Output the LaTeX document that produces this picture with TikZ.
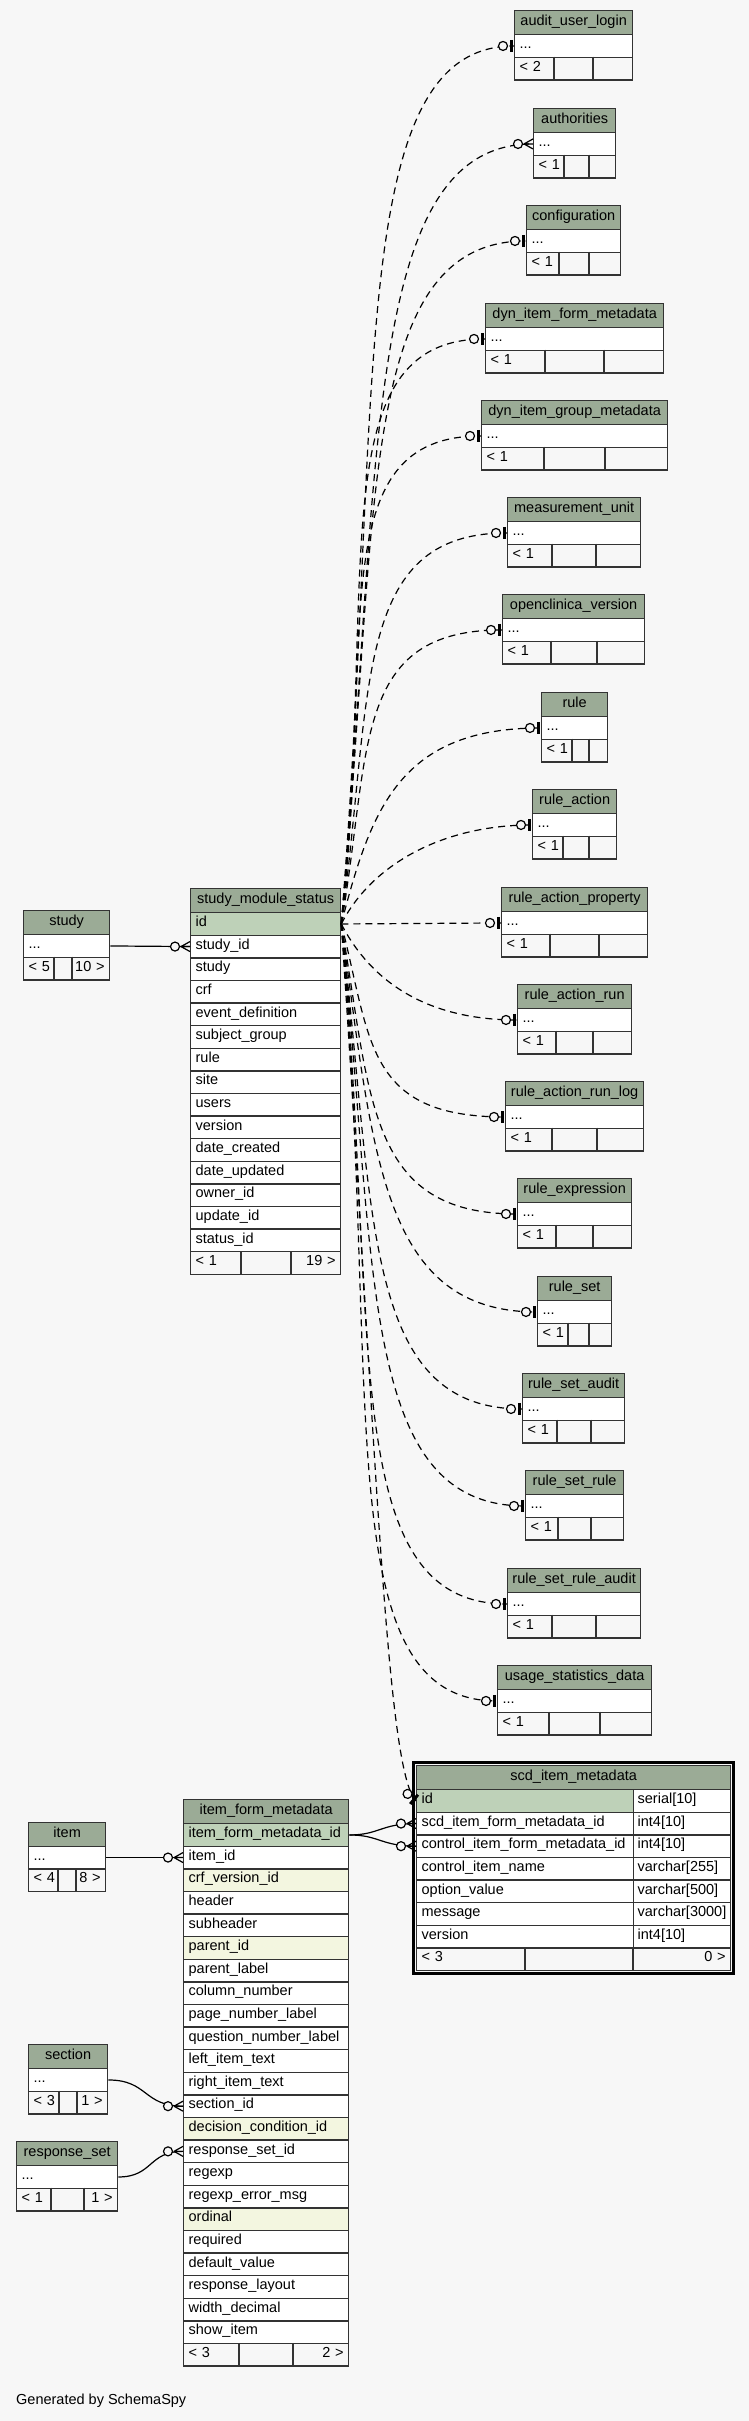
\documentclass[tikz,border=0pt]{standalone}
\usepackage{fontspec}
\setmainfont{Liberation Sans}
\definecolor{bgcol}{HTML}{F7F7F7}
\definecolor{hdrcol}{HTML}{9BAB96}
\definecolor{pkcol}{HTML}{BED1B8}
\definecolor{idxcol}{HTML}{F3F6E0}
\definecolor{edgecol}{HTML}{333333}

\begin{document}
\begin{tikzpicture}[x=1pt, y=-1pt,
    every node/.style={font=\fontsize{14.5}{17}\selectfont, text height=9.5pt, text depth=4pt},
    tbl/.style={draw=edgecol, line width=1.3pt},
    hdr/.style={tbl, fill=hdrcol, anchor=north west, minimum height=24pt, inner sep=0pt},
    cell/.style={tbl, fill=white, anchor=north west, minimum height=22.6pt, inner xsep=5pt, inner ysep=0pt, align=left},
    foot/.style={cell, fill=bgcol},
    imp/.style={line width=1.2pt, dash pattern=on 7pt off 5pt},
    fk/.style={line width=1.2pt},
    crow/.pic={\draw[line width=1.2pt] (-9,0) -- (0,-5) (-9,0) -- (0,5) (-9,0) -- (0,0);
               \draw[line width=1.2pt, fill=bgcol] (-15,0) circle (4.5pt);},
    zeroone/.pic={\draw[line width=3pt] (-2.5,-6) -- (-2.5,6);
                  \draw[line width=1.2pt, fill=bgcol] (-11,0) circle (4.5pt);}]

    \fill[bgcol] (0,0) rectangle (749,2421);
    \useasboundingbox (0,0) rectangle (749,2421);

    \foreach \nm/\xl/\xr/\ty/\da/\db/\ft/\txt in {
        aul/514/632/10/554/593/< 2/audit\_user\_login,
        auth/533/615/108/564/589/< 1/authorities,
        conf/526/620/205/559/589/< 1/configuration,
        difm/485/663/303/545/604/< 1/dyn\_item\_form\_metadata,
        digm/481/667/400/544/605/< 1/dyn\_item\_group\_metadata,
        mu/507/640/497/552/596/< 1/measurement\_unit,
        ocv/502/644/594/551/597/< 1/openclinica\_version,
        rl/541/607/692/572/589/< 1/rule,
        ra/532/616/789/563/589/< 1/rule\_action,
        rap/501/647/887/550/599/< 1/rule\_action\_property,
        rar/517/631/984/556/593/< 1/rule\_action\_run,
        rarl/505/643/1081/552/597/< 1/rule\_action\_run\_log,
        rex/517/631/1178/556/593/< 1/rule\_expression,
        rs/537/611/1276/568/589/< 1/rule\_set,
        rsa/522/624/1373/557/591/< 1/rule\_set\_audit,
        rsr/525/623/1470/558/591/< 1/rule\_set\_rule,
        rsra/507/640/1568/552/596/< 1/rule\_set\_rule\_audit,
        usd/497/651/1665/549/600/< 1/usage\_statistics\_data,
        study/23/109/910/54/72/< 5\hfill 10 >/study,
        item/28/105/1821.6/58/76/< 4\hfill 8 >/item,
        sec/28/107/2044/59/77/< 3\hfill 1 >/section,
        rset/16/117/2141/51/84/< 1\hfill 1 >/response\_set}
    {
        \pgfmathsetmacro\tblw{\xr-\xl}
        \pgfmathsetmacro\txtw{\xr-\xl-10}
        \node[hdr, minimum width=\tblw pt] (\nm-h) at (\xl,\ty) {\txt};
        \node[cell, minimum width=\tblw pt, text width=\txtw pt] (\nm) at (\xl,\ty+24) {...};
        \node[foot, minimum width=\tblw pt, text width=\txtw pt] (\nm-f) at (\xl,\ty+46.6) {\ft};
        \draw[tbl] (\da,\ty+46.6) -- (\da,\ty+69.2) (\db,\ty+46.6) -- (\db,\ty+69.2);
    }

    \node[hdr, minimum width=150pt] (sms-h) at (190,888) {study\_module\_status};
    \node[cell, fill=pkcol, minimum width=150pt, text width=140pt] (sms-0) at (190,912) {id};
    \foreach \c [count=\i] in {study\_id, study, crf, event\_definition, subject\_group, rule, site,
        users, version, date\_created, date\_updated, owner\_id, update\_id, status\_id}
        \node[cell, minimum width=150pt, text width=140pt] (sms-\i) at (190,912+22.6*\i) {\c};
    \node[foot, minimum width=150pt, text width=140pt] (sms-f) at (190,1251) {< 1\hfill 19 >};
    \draw[tbl] (241,1251) -- (241,1273.6) (291,1251) -- (291,1273.6);

    \node[hdr, minimum width=165pt] (ifm-h) at (183,1799) {item\_form\_metadata};
    \node[cell, fill=pkcol, minimum width=165pt, text width=155pt] (ifm-0) at (183,1823) {item\_form\_metadata\_id};
    \foreach \c/\f [count=\i] in {item\_id/white, crf\_version\_id/idxcol, header/white, subheader/white,
        parent\_id/idxcol, parent\_label/white, column\_number/white, page\_number\_label/white,
        question\_number\_label/white, left\_item\_text/white, right\_item\_text/white, section\_id/white,
        decision\_condition\_id/idxcol, response\_set\_id/white, regexp/white, regexp\_error\_msg/white,
        ordinal/idxcol, required/white, default\_value/white, response\_layout/white,
        width\_decimal/white, show\_item/white}
        \node[cell, fill=\f, minimum width=165pt, text width=155pt] (ifm-\i) at (183,1823+22.6*\i) {\c};
    \node[foot, minimum width=165pt, text width=155pt] (ifm-f) at (183,2342.8) {< 3\hfill 2 >};
    \draw[tbl] (239,2342.8) -- (239,2365.4) (293,2342.8) -- (293,2365.4);

    \node[hdr, minimum width=314pt] (scd-h) at (416,1765) {scd\_item\_metadata};
    \node[cell, fill=pkcol, minimum width=217pt, text width=207pt] (scd-0) at (416,1789) {id};
    \node[cell, minimum width=97pt, text width=89pt, inner xsep=4pt] (scd-0t) at (633,1789) {serial[10]};
    \foreach \c/\ct [count=\i] in {scd\_item\_form\_metadata\_id/int4[10], control\_item\_form\_metadata\_id/int4[10],
        control\_item\_name/varchar[255], option\_value/varchar[500], message/varchar[3000], version/int4[10]}
    {
        \node[cell, minimum width=217pt, text width=207pt] (scd-\i) at (416,1789+22.6*\i) {\c};
        \node[cell, minimum width=97pt, text width=89pt, inner xsep=4pt] (scd-\i t) at (633,1789+22.6*\i) {\ct};
    }
    \node[foot, minimum width=314pt, text width=304pt] (scd-f) at (416,1947.2) {< 3\hfill 0 >};
    \draw[tbl] (525,1947.2) -- (525,1969.8) (633,1947.2) -- (633,1969.8);
    \draw[line width=2.8pt] ([shift={(-2.2,-2.2)}]scd-h.north west) rectangle ([shift={(2.2,2.2)}]scd-f.south east);

    \draw[imp] (sms-0.east) .. controls +(42,-525) and +(-170,0) .. (aul.west);
    \draw[imp] (sms-0.east) .. controls +(40,-467) and +(-170,0) .. (auth.west);
    \draw[imp] (sms-0.east) .. controls +(38,-409) and +(-170,0) .. (conf.west);
    \draw[imp] (sms-0.east) .. controls +(36,-350) and +(-165,0) .. (difm.west);
    \draw[imp] (sms-0.east) .. controls +(34,-292) and +(-160,0) .. (digm.west);
    \draw[imp] (sms-0.east) .. controls +(32,-233) and +(-155,0) .. (mu.west);
    \draw[imp] (sms-0.east) .. controls +(30,-175) and +(-150,0) .. (ocv.west);
    \draw[imp] (sms-0.east) .. controls +(30,-117) and +(-140,0) .. (rl.west);
    \draw[imp] (sms-0.east) .. controls +(30,-59) and +(-90,0) .. (ra.west);
    \draw[imp] (sms-0.east) -- (rap.west);
    \draw[imp] (sms-0.east) .. controls +(30,58) and +(-90,0) .. (rar.west);
    \draw[imp] (sms-0.east) .. controls +(30,116) and +(-140,0) .. (rarl.west);
    \draw[imp] (sms-0.east) .. controls +(30,175) and +(-150,0) .. (rex.west);
    \draw[imp] (sms-0.east) .. controls +(32,233) and +(-155,0) .. (rs.west);
    \draw[imp] (sms-0.east) .. controls +(34,292) and +(-160,0) .. (rsa.west);
    \draw[imp] (sms-0.east) .. controls +(36,350) and +(-165,0) .. (rsr.west);
    \draw[imp] (sms-0.east) .. controls +(38,409) and +(-170,0) .. (rsra.west);
    \draw[imp] (sms-0.east) .. controls +(40,467) and +(-170,0) .. (usd.west);
    \draw[imp] (sms-0.east) .. controls +(35,525) and +(-30,-30) .. (scd-0.west);

    \draw[fk] (study.east) -- (sms-1.west);
    \draw[fk] (item.east) -- (ifm-1.west);
    \draw[fk] (sec.east) .. controls +(40,0) and +(-40,0) .. (ifm-12.west);
    \draw[fk] (rset.east) .. controls +(35,0) and +(-35,0) .. (ifm-14.west);
    \draw[fk] (ifm-0.east) .. controls +(30,0) and +(-35,0) .. (scd-1.west);
    \draw[fk] (ifm-0.east) .. controls +(30,0) and +(-35,0) .. (scd-2.west);

    \foreach \nm in {aul,conf,difm,digm,mu,ocv,rl,ra,rap,rar,rarl,rex,rs,rsa,rsr,rsra,usd}
        \pic at (\nm.west) {zeroone};
    \pic[rotate=-40] at (scd-0.west) {zeroone};
    \foreach \nm in {auth,sms-1,ifm-1,ifm-12,ifm-14,scd-1,scd-2}
        \pic at (\nm.west) {crow};

    \node[anchor=west, inner sep=0pt] (gen) at (16,2402) {Generated by SchemaSpy};
\end{tikzpicture}
\end{document}
